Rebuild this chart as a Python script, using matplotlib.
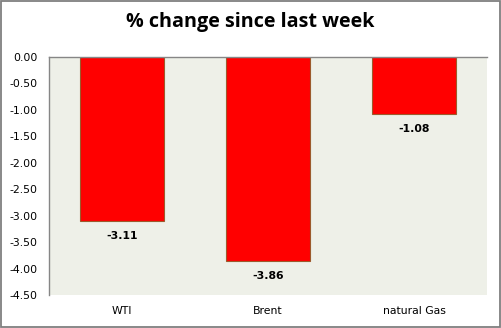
import matplotlib
matplotlib.use("Agg")
import matplotlib.pyplot as plt
from matplotlib.patches import Rectangle

categories = ["WTI", "Brent", "natural Gas"]
values = [-3.11, -3.86, -1.08]
yticks = [0.0, -0.5, -1.0, -1.5, -2.0, -2.5, -3.0, -3.5, -4.0, -4.5]
title = "% change since last week"

fig = plt.figure(figsize=(5.02, 3.28), dpi=100)
fig.patch.set_facecolor("white")
ax = fig.add_axes([49/502, 33/328, (487-49)/502, (295-57)/328])
ax.set_facecolor("#EEF0E8")

x = list(range(len(categories)))
ax.bar(x, values, width=0.57, color="#FF0000", edgecolor="#9C5A2C", linewidth=0.8, zorder=2)
ax.set_xlim(-0.5, 2.5)
ax.set_ylim(-4.5, 0)
ax.set_yticks(yticks)
ax.set_yticklabels([f"{v:.2f}" for v in yticks], fontsize=7.8, family="DejaVu Sans")
ax.set_xticks(x)
ax.set_xticklabels(categories, fontsize=7.8, family="DejaVu Sans")
ax.tick_params(axis="both", length=0)
ax.tick_params(axis="x", pad=8)
ax.tick_params(axis="y", pad=8.5)

for s in ["right", "bottom"]:
    ax.spines[s].set_visible(False)
ax.spines["left"].set_color("#868686")
ax.spines["top"].set_color("#868686")
ax.spines["left"].set_linewidth(1)
ax.spines["top"].set_linewidth(1)

for xi, v in zip(x, values):
    ax.annotate(f"{v:.2f}", (xi, v), xytext=(0, -15), textcoords="offset pixels",
                ha="center", va="center", fontsize=7.8, fontweight="bold", family="DejaVu Sans")

fig.text(250/502, 1 - 22/328, title, ha="center", va="center", fontsize=14.2,
         fontweight="bold", family="Open Sans")

fig.patches.append(Rectangle((0.002, 0.003), 0.995, 0.993, transform=fig.transFigure,
                             fill=False, edgecolor="#7F7F7F", linewidth=1.3))

fig.savefig("out.png", dpi=100)
